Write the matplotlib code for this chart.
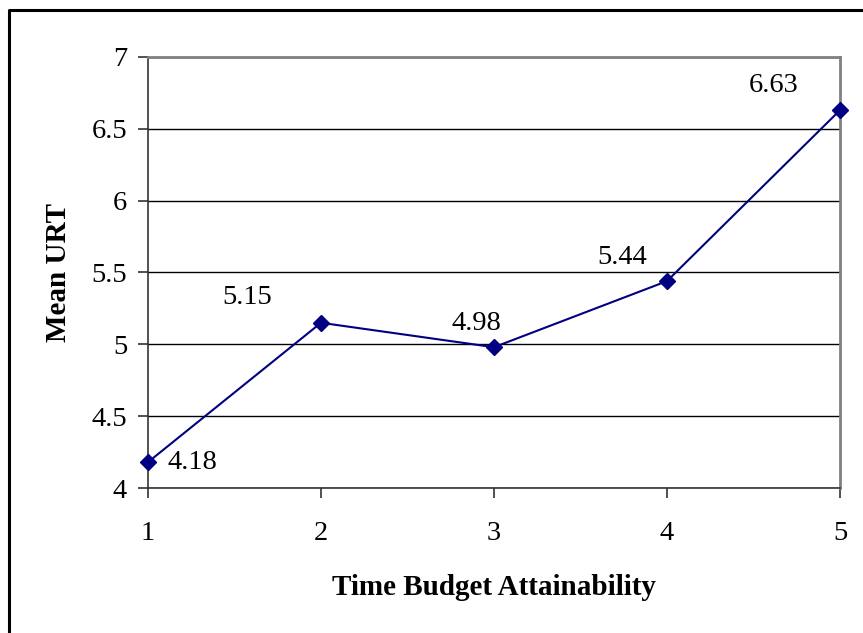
import matplotlib.pyplot as plt
from matplotlib.lines import Line2D

plt.rcParams['font.family'] = ['Liberation Serif', 'DejaVu Serif']

attainability = [1, 2, 3, 4, 5]
mean_urt = [4.18, 5.15, 4.98, 5.44, 6.63]
value_labels = ['4.18', '5.15', '4.98', '5.44', '6.63']
# label offsets in points (dx, dy)
label_offsets = [(32, 0), (-53, 18), (-13, 17), (-32, 17), (-48, 18)]

fig = plt.figure(figsize=(8.63, 6.33), dpi=100)
ax = fig.add_axes([148 / 863, 1 - 488 / 633, 692 / 863, 431 / 633])

ax.plot(attainability, mean_urt, color='#000080', linewidth=1.5,
        marker='D', markersize=8, clip_on=False, zorder=3)

for x, y, lab, (dx, dy) in zip(attainability, mean_urt, value_labels, label_offsets):
    ax.annotate(lab, (x, y), xytext=(dx, dy), textcoords='offset points',
                ha='center', va='center', fontsize=20.5)

ax.set_xlim(1, 5)
ax.set_ylim(4, 7)
ax.set_xticks(attainability)
ax.set_yticks([4, 4.5, 5, 5.5, 6, 6.5, 7])
ax.set_yticklabels(['4', '4.5', '5', '5.5', '6', '6.5', '7'])
ax.yaxis.grid(True, color='black', linewidth=1)
ax.set_axisbelow(True)

ax.tick_params(axis='both', labelsize=20.5, direction='out', length=7, width=1.2, color='#333333')
ax.tick_params(axis='x', pad=17)
ax.tick_params(axis='y', pad=8)

ax.spines['top'].set_color('#808080')
ax.spines['right'].set_color('#808080')
ax.spines['top'].set_linewidth(2)
ax.spines['right'].set_linewidth(2)
for side in ['left', 'bottom']:
    ax.spines[side].set_linewidth(1.2)
    ax.spines[side].set_color('#333333')

ax.set_xlabel('Time Budget Attainability', fontsize=21, fontweight='bold', labelpad=20)
ax.set_ylabel('Mean URT', fontsize=21, fontweight='bold', labelpad=14)

# chart border (only top and left edges are in the frame)
fig.lines.append(Line2D([8.5 / 863, 8.5 / 863, 1], [0, 1 - 9.5 / 633, 1 - 9.5 / 633],
                        transform=fig.transFigure, color='black', linewidth=2.2))

fig.savefig('out.png', dpi=100)
